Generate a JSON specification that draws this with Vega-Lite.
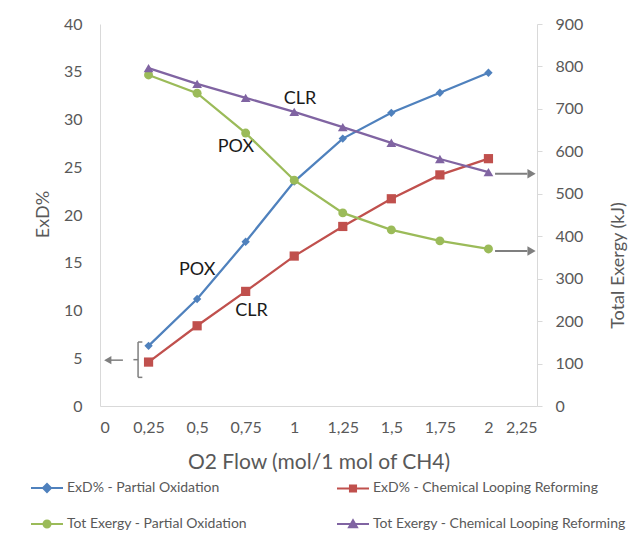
{
  "$schema": "https://vega.github.io/schema/vega-lite/v6.json",
  "width": 437,
  "height": 382,
  "autosize": {"type": "none"},
  "padding": {"left": 100, "top": 24, "right": 93, "bottom": 144},
  "background": "white",
  "config": {
    "view": {"stroke": null},
    "font": "Lato",
    "axis": {
      "grid": false,
      "domainColor": "#d9d9d9",
      "tickColor": "#d9d9d9",
      "labelColor": "#595959",
      "titleColor": "#595959",
      "labelFont": "Lato",
      "titleFont": "Lato",
      "titleFontWeight": "normal",
      "labelFontSize": 16,
      "titleFontSize": 18
    },
    "legend": {
      "orient": "none",
      "direction": "horizontal",
      "legendX": -70,
      "legendY": 447,
      "columns": 2,
      "columnPadding": 85,
      "rowPadding": 11,
      "padding": 0,
      "symbolSize": 1024,
      "labelFont": "Lato",
      "labelFontSize": 14,
      "labelColor": "#595959",
      "labelOffset": 3,
      "labelLimit": 0,
      "title": null
    }
  },
  "datasets": {
    "exd": [
      {"o2": 0.25, "series": "ExD% - Partial Oxidation", "value": 6.3},
      {"o2": 0.5, "series": "ExD% - Partial Oxidation", "value": 11.2},
      {"o2": 0.75, "series": "ExD% - Partial Oxidation", "value": 17.2},
      {"o2": 1.0, "series": "ExD% - Partial Oxidation", "value": 23.5},
      {"o2": 1.25, "series": "ExD% - Partial Oxidation", "value": 28.0},
      {"o2": 1.5, "series": "ExD% - Partial Oxidation", "value": 30.7},
      {"o2": 1.75, "series": "ExD% - Partial Oxidation", "value": 32.8},
      {"o2": 2.0, "series": "ExD% - Partial Oxidation", "value": 34.9},
      {"o2": 0.25, "series": "ExD% - Chemical Looping Reforming", "value": 4.6},
      {"o2": 0.5, "series": "ExD% - Chemical Looping Reforming", "value": 8.4},
      {"o2": 0.75, "series": "ExD% - Chemical Looping Reforming", "value": 12.0},
      {"o2": 1.0, "series": "ExD% - Chemical Looping Reforming", "value": 15.7},
      {"o2": 1.25, "series": "ExD% - Chemical Looping Reforming", "value": 18.8},
      {"o2": 1.5, "series": "ExD% - Chemical Looping Reforming", "value": 21.7},
      {"o2": 1.75, "series": "ExD% - Chemical Looping Reforming", "value": 24.2},
      {"o2": 2.0, "series": "ExD% - Chemical Looping Reforming", "value": 25.9}
    ],
    "tot": [
      {"o2": 0.25, "series": "Tot Exergy - Partial Oxidation", "value": 780},
      {"o2": 0.5, "series": "Tot Exergy - Partial Oxidation", "value": 737},
      {"o2": 0.75, "series": "Tot Exergy - Partial Oxidation", "value": 643},
      {"o2": 1.0, "series": "Tot Exergy - Partial Oxidation", "value": 532},
      {"o2": 1.25, "series": "Tot Exergy - Partial Oxidation", "value": 455},
      {"o2": 1.5, "series": "Tot Exergy - Partial Oxidation", "value": 415},
      {"o2": 1.75, "series": "Tot Exergy - Partial Oxidation", "value": 389},
      {"o2": 2.0, "series": "Tot Exergy - Partial Oxidation", "value": 370},
      {"o2": 0.25, "series": "Tot Exergy - Chemical Looping Reforming", "value": 796},
      {"o2": 0.5, "series": "Tot Exergy - Chemical Looping Reforming", "value": 759},
      {"o2": 0.75, "series": "Tot Exergy - Chemical Looping Reforming", "value": 726},
      {"o2": 1.0, "series": "Tot Exergy - Chemical Looping Reforming", "value": 693},
      {"o2": 1.25, "series": "Tot Exergy - Chemical Looping Reforming", "value": 657},
      {"o2": 1.5, "series": "Tot Exergy - Chemical Looping Reforming", "value": 620},
      {"o2": 1.75, "series": "Tot Exergy - Chemical Looping Reforming", "value": 582},
      {"o2": 2.0, "series": "Tot Exergy - Chemical Looping Reforming", "value": 551}
    ],
    "labels": [
      {"o2": 1.03, "value": 32.1, "label": "CLR"},
      {"o2": 0.70, "value": 27.1, "label": "POX"},
      {"o2": 0.50, "value": 14.2, "label": "POX"},
      {"o2": 0.78, "value": 9.9, "label": "CLR"}
    ],
    "leftSegments": [
      {"o2": 0.05, "o2end": 0.118, "value": 4.8},
      {"o2": 0.196, "o2end": 0.218, "value": 6.7},
      {"o2": 0.196, "o2end": 0.218, "value": 3.0},
      {"o2": 0.172, "o2end": 0.196, "value": 4.85}
    ],
    "leftVertical": [
      {"o2": 0.196, "value": 3.0, "value2": 6.7}
    ],
    "leftHead": [
      {"o2": 0.04, "value": 4.8}
    ],
    "rightSegments": [
      {"o2": 2.034, "o2end": 2.2, "value": 547},
      {"o2": 2.034, "o2end": 2.2, "value": 365}
    ],
    "rightHead": [
      {"o2": 2.222, "value": 547},
      {"o2": 2.222, "value": 365}
    ]
  },
  "encoding": {
    "x": {
      "field": "o2",
      "type": "quantitative",
      "title": "O2 Flow (mol/1 mol of CH4)",
      "scale": {"domain": [0, 2.25], "nice": false, "zero": false},
      "axis": {
        "values": [0, 0.25, 0.5, 0.75, 1, 1.25, 1.5, 1.75, 2, 2.25],
        "labelExpr": "replace(toString(datum.value), '.', ',')",
        "ticks": false,
        "tickSize": 0,
        "labelPadding": 13,
        "titleX": 218.5,
        "titleY": 56,
        "titleBaseline": "middle",
        "titleAlign": "center",
        "titleFontSize": 21
      }
    }
  },
  "layer": [
    {
      "layer": [
        {
          "data": {"name": "exd"},
          "mark": {"type": "line", "strokeWidth": 2.25},
          "encoding": {
            "y": {
              "field": "value",
              "type": "quantitative",
              "title": "ExD%",
              "scale": {"domain": [0, 40], "nice": false},
              "axis": {
                "orient": "left",
                "values": [0, 5, 10, 15, 20, 25, 30, 35, 40],
                "ticks": false,
                "tickSize": 0,
                "labelPadding": 18,
                "titleAngle": 270,
                "titleX": -57,
                "titleY": 190,
                "titleBaseline": "middle",
                "titleAlign": "center"
              }
            },
            "color": {
              "field": "series",
              "type": "nominal",
              "scale": {
                "domain": ["ExD% - Partial Oxidation", "ExD% - Chemical Looping Reforming", "Tot Exergy - Partial Oxidation", "Tot Exergy - Chemical Looping Reforming"],
                "range": ["#4F81BD", "#C0504D", "#9BBB59", "#8064A2"]
              },
              "legend": {
                "encode": {
                  "symbols": {
                    "update": {
                      "shape": {"signal": "datum.value === 'ExD% - Partial Oxidation' ? 'M-1,0H1M-0.25,0L0,-0.25L0.25,0L0,0.25Z' : datum.value === 'ExD% - Chemical Looping Reforming' ? 'M-1,0H1M-0.19,-0.19H0.19V0.19H-0.19Z' : datum.value === 'Tot Exergy - Partial Oxidation' ? 'M-1,0H1M-0.22,0A0.22,0.22 0 1,0 0.22,0A0.22,0.22 0 1,0 -0.22,0Z' : 'M-1,0H1M-0.25,0.2H0.25L0,-0.24Z'"},
                      "fill": {"signal": "scale('color', datum.value)"},
                      "stroke": {"signal": "scale('color', datum.value)"},
                      "strokeWidth": {"value": 2},
                      "size": {"value": 1024},
                      "opacity": {"value": 1}
                    }
                  }
                }
              }
            }
          }
        },
        {
          "data": {"name": "exd"},
          "transform": [{"filter": "datum.series === 'ExD% - Partial Oxidation'"}],
          "mark": {"type": "point", "filled": true, "opacity": 1, "shape": "diamond", "size": 70},
          "encoding": {
            "y": {"field": "value", "type": "quantitative", "title": "ExD%"},
            "color": {"field": "series", "type": "nominal"}
          }
        },
        {
          "data": {"name": "exd"},
          "transform": [{"filter": "datum.series === 'ExD% - Chemical Looping Reforming'"}],
          "mark": {"type": "point", "filled": true, "opacity": 1, "shape": "square", "size": 85},
          "encoding": {
            "y": {"field": "value", "type": "quantitative", "title": "ExD%"},
            "color": {"field": "series", "type": "nominal"}
          }
        },
        {
          "data": {"name": "labels"},
          "mark": {"type": "text", "font": "Lato", "fontSize": 18, "color": "#1a1a1a", "align": "center", "baseline": "middle"},
          "encoding": {
            "y": {"field": "value", "type": "quantitative", "title": "ExD%"},
            "text": {"field": "label"}
          }
        },
        {
          "data": {"name": "leftSegments"},
          "mark": {"type": "rule", "color": "#7f7f7f", "strokeWidth": 1.5},
          "encoding": {
            "y": {"field": "value", "type": "quantitative", "title": "ExD%"},
            "x2": {"field": "o2end"}
          }
        },
        {
          "data": {"name": "leftVertical"},
          "mark": {"type": "rule", "color": "#7f7f7f", "strokeWidth": 1.5},
          "encoding": {
            "y": {"field": "value", "type": "quantitative", "title": "ExD%"},
            "y2": {"field": "value2"}
          }
        },
        {
          "data": {"name": "leftHead"},
          "mark": {"type": "point", "shape": "triangle-left", "filled": true, "color": "#7f7f7f", "opacity": 1, "size": 70},
          "encoding": {
            "y": {"field": "value", "type": "quantitative", "title": "ExD%"}
          }
        }
      ]
    },
    {
      "layer": [
        {
          "data": {"name": "tot"},
          "mark": {"type": "line", "strokeWidth": 2.25},
          "encoding": {
            "y": {
              "field": "value",
              "type": "quantitative",
              "title": "Total Exergy (kJ)",
              "scale": {"domain": [0, 900], "nice": false},
              "axis": {
                "orient": "right",
                "values": [0, 100, 200, 300, 400, 500, 600, 700, 800, 900],
                "ticks": true,
                "tickSize": 5,
                "labelPadding": 13,
                "titleAngle": 270,
                "titleX": 81,
                "titleY": 241,
                "titleBaseline": "middle",
                "titleAlign": "center"
              }
            },
            "color": {"field": "series", "type": "nominal"}
          }
        },
        {
          "data": {"name": "tot"},
          "transform": [{"filter": "datum.series === 'Tot Exergy - Partial Oxidation'"}],
          "mark": {"type": "point", "filled": true, "opacity": 1, "shape": "circle", "size": 80},
          "encoding": {
            "y": {"field": "value", "type": "quantitative", "title": "Total Exergy (kJ)"},
            "color": {"field": "series", "type": "nominal"}
          }
        },
        {
          "data": {"name": "tot"},
          "transform": [{"filter": "datum.series === 'Tot Exergy - Chemical Looping Reforming'"}],
          "mark": {"type": "point", "filled": true, "opacity": 1, "shape": "triangle-up", "size": 95},
          "encoding": {
            "y": {"field": "value", "type": "quantitative", "title": "Total Exergy (kJ)"},
            "color": {"field": "series", "type": "nominal"}
          }
        },
        {
          "data": {"name": "rightSegments"},
          "mark": {"type": "rule", "color": "#7f7f7f", "strokeWidth": 2},
          "encoding": {
            "y": {"field": "value", "type": "quantitative", "title": "Total Exergy (kJ)"},
            "x2": {"field": "o2end"}
          }
        },
        {
          "data": {"name": "rightHead"},
          "mark": {"type": "point", "shape": "triangle-right", "filled": true, "color": "#7f7f7f", "opacity": 1, "size": 90},
          "encoding": {
            "y": {"field": "value", "type": "quantitative", "title": "Total Exergy (kJ)"}
          }
        }
      ]
    }
  ],
  "resolve": {"scale": {"y": "independent"}}
}
